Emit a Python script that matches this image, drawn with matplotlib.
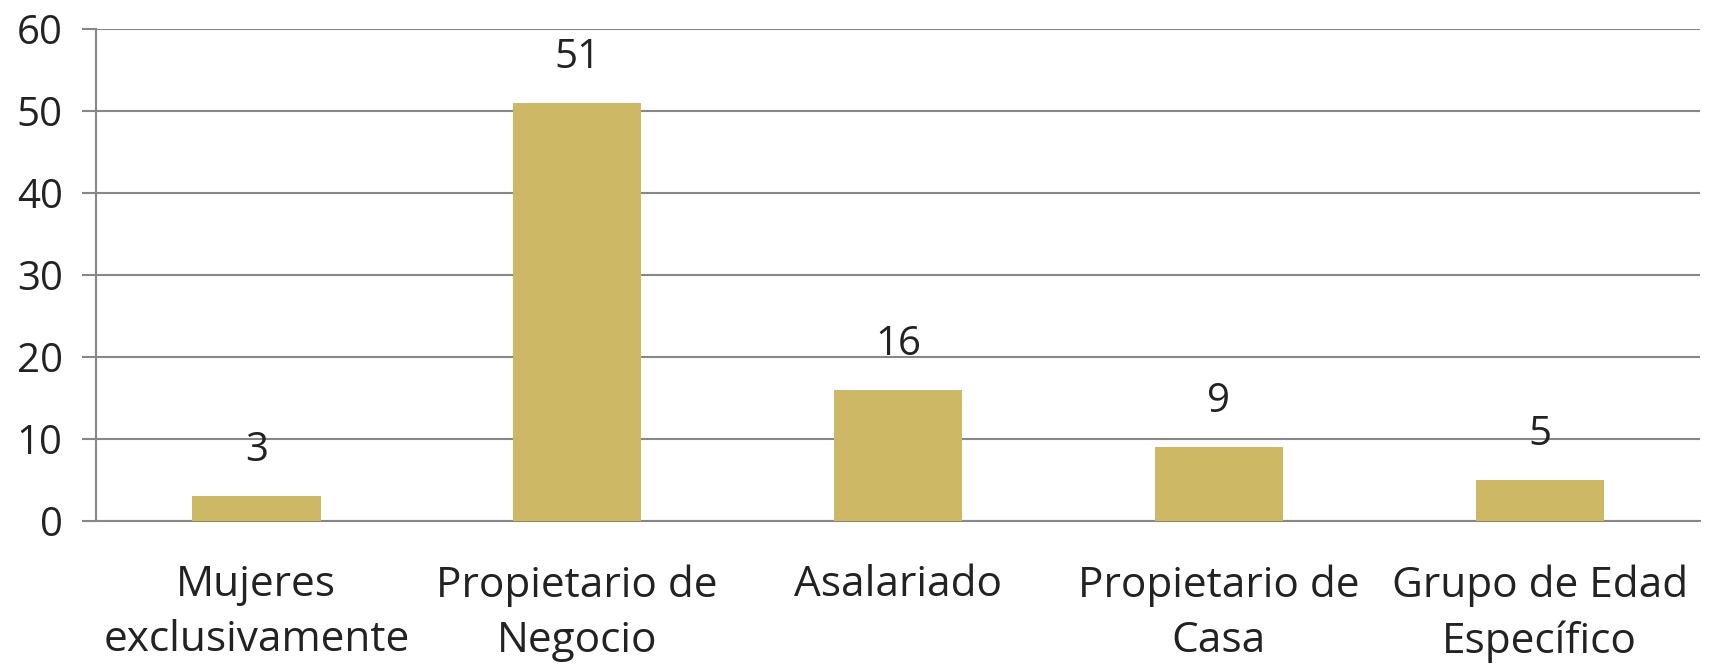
import matplotlib
matplotlib.use("Agg")
import matplotlib.pyplot as plt

# data
categories = ["Mujeres\nexclusivamente", "Propietario de\nNegocio", "Asalariado",
              "Propietario de\nCasa", "Grupo de Edad\nEspecífico"]
values = [3, 51, 16, 9, 5]
y_ticks = [0, 10, 20, 30, 40, 50, 60]

plt.rcParams['font.family'] = ['Open Sans', 'DejaVu Sans']

fig = plt.figure(figsize=(17.1, 6.67), dpi=100)
ax = fig.add_axes([0.0561, 0.2189, 0.9381, 0.7376])

x = range(len(categories))
bars = ax.bar(x, values, width=0.40, color='#CDB866', zorder=3)

ax.set_xlim(-0.5, len(categories) - 0.5)
ax.set_ylim(0, 60)
ax.set_yticks(y_ticks)
ax.yaxis.grid(True, color='#878787', linewidth=1.5, zorder=0)
ax.set_xticks(list(x))
ax.set_xticklabels(categories, fontsize=30.5, color='#222222', linespacing=1.42)
ax.tick_params(axis='x', length=0, pad=31)
ax.tick_params(axis='y', length=10, width=1.5, color='#878787', labelsize=29,
               labelcolor='#222222', pad=14)

for s in ['top', 'right']:
    ax.spines[s].set_visible(False)
ax.spines['left'].set_color('#878787')
ax.spines['left'].set_linewidth(1.5)
ax.spines['bottom'].set_color('#878787')
ax.spines['bottom'].set_linewidth(1.5)

for b, v in zip(bars, values):
    ax.annotate(str(v), (b.get_x() + b.get_width() / 2, v), xytext=(0, 18),
                textcoords='offset points', ha='center', va='bottom',
                fontsize=29, color='#222222')

fig.savefig("out.png", dpi=100)
